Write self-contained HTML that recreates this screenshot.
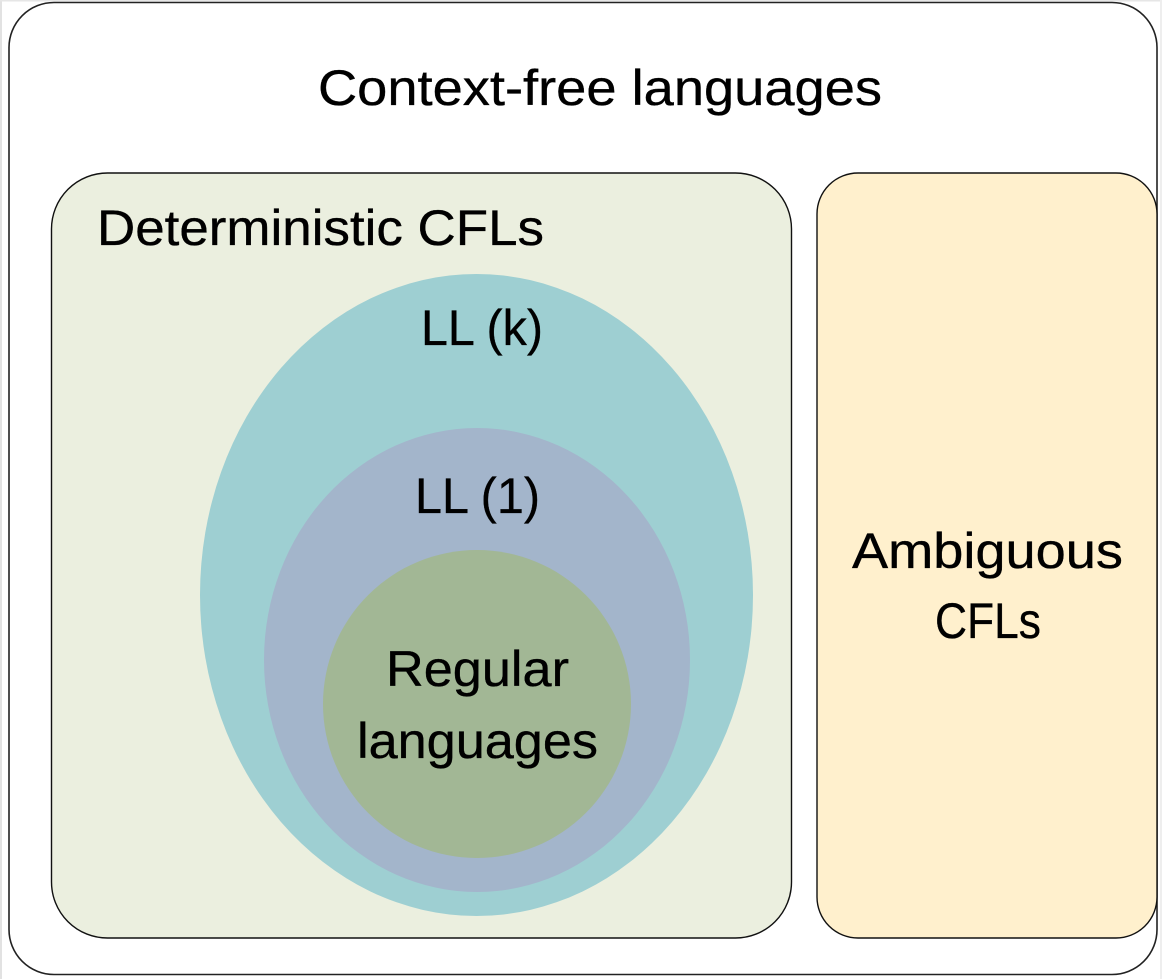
<!DOCTYPE html>
<html><head><meta charset="utf-8"><style>
html,body{margin:0;padding:0;background:#fff;width:1162px;height:979px;overflow:hidden}
svg{display:block}
text{font-family:"Liberation Sans",sans-serif;font-size:50px;fill:#000;stroke:#000;stroke-width:.35px}
</style></head><body>
<svg width="1162" height="979" viewBox="0 0 1162 979" xmlns="http://www.w3.org/2000/svg">
<rect x="0" y="0" width="1162" height="979" fill="#fff"/>
<rect x="0" y="0" width="2" height="979" fill="#e2e2e2"/>
<rect x="0" y="0" width="1162" height="1.5" fill="#e6e6e6"/>
<rect x="1160" y="0" width="2" height="979" fill="#eeeeee"/>
<rect x="9" y="2.5" width="1148" height="972" rx="45" ry="45" fill="#fff" stroke="#222" stroke-width="1.6"/>
<rect x="51.5" y="173" width="740" height="765" rx="56" ry="56" fill="#ebefdf" stroke="#111" stroke-width="1.4"/>
<rect x="817" y="173" width="340" height="765" rx="41" ry="41" fill="#fff0cd" stroke="#111" stroke-width="1.4"/>
<ellipse cx="476.5" cy="595" rx="276.5" ry="321" fill="#9ecfd2"/>
<ellipse cx="477" cy="660" rx="213" ry="232" fill="#a3b5cb"/>
<circle cx="477" cy="704" r="154" fill="#a2b795"/>
<text x="318" y="105" textLength="564" lengthAdjust="spacingAndGlyphs">Context-free languages</text>
<text x="97" y="245" textLength="447" lengthAdjust="spacingAndGlyphs">Deterministic CFLs</text>
<text x="421" y="345" textLength="122" lengthAdjust="spacingAndGlyphs">LL (k)</text>
<text x="415" y="513" textLength="125" lengthAdjust="spacingAndGlyphs">LL (1)</text>
<text x="386" y="686" textLength="183" lengthAdjust="spacingAndGlyphs">Regular</text>
<text x="357" y="758" textLength="241" lengthAdjust="spacingAndGlyphs">languages</text>
<text x="852" y="568" textLength="271" lengthAdjust="spacingAndGlyphs">Ambiguous</text>
<text x="935" y="638" textLength="106" lengthAdjust="spacingAndGlyphs">CFLs</text>
</svg>
</body></html>
